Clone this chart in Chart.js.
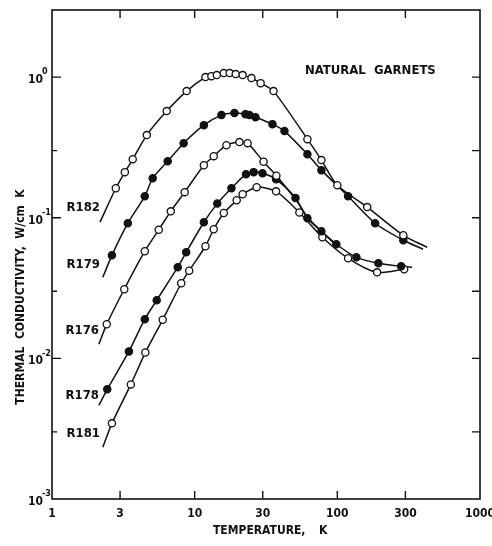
<!DOCTYPE html>
<html>
<head>
<meta charset="utf-8">
<script src="https://cdn.jsdelivr.net/npm/chart.js@4.4.0/dist/chart.umd.min.js"></script>
<style>
  html, body { margin: 0; padding: 0; background: #fff; }
  canvas { display: block; }
</style>
</head>
<body>
<canvas id="kchart" width="492" height="546"></canvas>
<script>
// Thermal conductivity of natural garnets, K (W/cm K) vs temperature T (K)
// Measured points per sample; the head/tail arrays only extend the drawn curve.
const R182_T = [2.80, 3.24, 3.68, 4.62, 6.37, 8.79, 11.9, 13.1, 14.3, 16.0, 17.6, 19.4, 21.7, 25.0, 29.0, 35.7, 61.7, 77.3, 100, 162, 290];
const R182_K = [0.162, 0.211, 0.261, 0.387, 0.573, 0.795, 1.00, 1.016, 1.033, 1.068, 1.068, 1.05, 1.033, 0.984, 0.906, 0.795, 0.362, 0.257, 0.170, 0.119, 0.075];
const R182_HEAD = [[2.17, 0.093]];
const R182_TAIL = [[426, 0.0617]];

const R179_T = [2.63, 3.40, 4.47, 5.08, 6.47, 8.37, 11.6, 15.4, 19.0, 22.7, 24.2, 26.7, 35.1, 42.6, 61.7, 77.3, 119, 184, 290];
const R179_K = [0.054, 0.0914, 0.142, 0.191, 0.252, 0.339, 0.455, 0.537, 0.555, 0.545, 0.537, 0.519, 0.463, 0.413, 0.283, 0.218, 0.142, 0.0914, 0.0692];
const R179_HEAD = [[2.27, 0.0377]];
const R179_TAIL = [[399, 0.0597]];

const R176_T = [2.42, 3.21, 4.47, 5.60, 6.80, 8.51, 11.6, 13.6, 16.7, 20.6, 23.5, 30.4, 37.4];
const R176_K = [0.0175, 0.0310, 0.0578, 0.0822, 0.111, 0.152, 0.236, 0.274, 0.328, 0.345, 0.339, 0.250, 0.199];
const R176_HEAD = [[2.13, 0.0126]];
const R176_TAIL = [[50.9, 0.135], [62.7, 0.099], [78.5, 0.0789], [98.4, 0.0637]];

const R178_T = [2.44, 3.46, 4.47, 5.42, 7.61, 8.72, 11.6, 14.4, 18.1, 22.9, 25.9, 29.9, 37.2, 50.9, 61.7, 77.3, 98.4, 136, 194, 280];
const R178_K = [0.00602, 0.0112, 0.0190, 0.0259, 0.0445, 0.0568, 0.0929, 0.126, 0.162, 0.204, 0.211, 0.207, 0.188, 0.138, 0.0992, 0.0801, 0.0648, 0.0523, 0.0475, 0.0451];
const R178_HEAD = [[2.13, 0.00463]];
const R178_TAIL = [[334, 0.0444]];

const R181_T = [2.63, 3.57, 4.51, 5.97, 8.05, 9.15, 11.9, 13.6, 16.0, 19.7, 21.7, 27.2, 37.2, 54.2, 78.5, 119, 190, 294];
const R181_K = [0.00345, 0.00653, 0.0110, 0.0188, 0.0342, 0.0420, 0.0627, 0.0828, 0.108, 0.133, 0.147, 0.165, 0.154, 0.109, 0.0727, 0.0515, 0.0409, 0.0430];
const R181_HEAD = [[2.27, 0.00233]];
const R181_TAIL = [];

const X_TICKS = [1, 3, 10, 30, 100, 300, 1000];
const X_TICK_LABELS = ['1', '3', '10', '30', '100', '300', '1000'];
const Y_MAJOR = [1e-3, 1e-2, 1e-1, 1];
const Y_EXP = ['-3', '-2', '-1', '0'];
const Y_MINOR = [3e-3, 3e-2, 3e-1];

const FONT = "'DejaVu Sans Condensed', 'Liberation Sans Narrow', sans-serif";
const INK = '#111';

const SAMPLES = [
  { name: 'R182', T: R182_T, K: R182_K, head: R182_HEAD, tail: R182_TAIL, filled: false, lx: 100, ly: 208 },
  { name: 'R179', T: R179_T, K: R179_K, head: R179_HEAD, tail: R179_TAIL, filled: true,  lx: 100, ly: 265 },
  { name: 'R176', T: R176_T, K: R176_K, head: R176_HEAD, tail: R176_TAIL, filled: false, lx: 99,  ly: 331 },
  { name: 'R178', T: R178_T, K: R178_K, head: R178_HEAD, tail: R178_TAIL, filled: true,  lx: 99,  ly: 396 },
  { name: 'R181', T: R181_T, K: R181_K, head: R181_HEAD, tail: R181_TAIL, filled: false, lx: 100, ly: 434 },
];

const toXY = (T, K) => T.map((t, i) => ({ x: t, y: K[i] }));
const pairs = (arr) => arr.map(p => ({ x: p[0], y: p[1] }));

const datasets = [];
SAMPLES.forEach(s => {
  // smooth curve through the points
  datasets.push({
    label: s.name + ' curve',
    data: [...pairs(s.head), ...toXY(s.T, s.K), ...pairs(s.tail)],
    showLine: true,
    borderColor: INK,
    borderWidth: 1.5,
    pointRadius: 0,
    tension: 0.25,
    order: 1,
  });
  // measured points, drawn on top
  datasets.push({
    label: s.name,
    data: toXY(s.T, s.K),
    showLine: false,
    pointRadius: 3.6,
    pointBorderWidth: 1.3,
    pointBorderColor: INK,
    pointBackgroundColor: s.filled ? INK : '#fff',
    order: 0,
  });
});

// frame, inward ticks, tick labels, titles and sample names
const decorations = {
  id: 'decorations',
  afterDraw(chart) {
    const { ctx, chartArea: a, scales: { x, y } } = chart;
    ctx.save();
    ctx.strokeStyle = INK;
    ctx.fillStyle = INK;
    ctx.lineWidth = 1.6;
    ctx.strokeRect(a.left, a.top, a.right - a.left, a.bottom - a.top);

    ctx.lineWidth = 1.4;
    ctx.beginPath();
    X_TICKS.slice(1, -1).forEach(v => {
      const px = x.getPixelForValue(v);
      ctx.moveTo(px, a.bottom); ctx.lineTo(px, a.bottom - 8);
      ctx.moveTo(px, a.top); ctx.lineTo(px, a.top + 8);
    });
    Y_MAJOR.slice(1).forEach(v => {
      const py = y.getPixelForValue(v);
      ctx.moveTo(a.left, py); ctx.lineTo(a.left + 9, py);
      ctx.moveTo(a.right, py); ctx.lineTo(a.right - 8, py);
    });
    Y_MINOR.forEach(v => {
      const py = y.getPixelForValue(v);
      ctx.moveTo(a.left, py); ctx.lineTo(a.left + 5, py);
      ctx.moveTo(a.right, py); ctx.lineTo(a.right - 8, py);
    });
    ctx.stroke();

    // x tick labels
    ctx.font = 'bold 12px ' + FONT;
    ctx.textAlign = 'center';
    ctx.textBaseline = 'middle';
    X_TICKS.forEach((v, i) => {
      ctx.fillText(X_TICK_LABELS[i], x.getPixelForValue(v), a.bottom + 15);
    });

    // y tick labels as 10 with a raised exponent
    Y_MAJOR.forEach((v, i) => {
      const py = y.getPixelForValue(v);
      ctx.font = 'bold 12px ' + FONT;
      ctx.textAlign = 'right';
      ctx.fillText('10', a.left - 9, py + 3);
      ctx.font = 'bold 9px ' + FONT;
      ctx.textAlign = 'left';
      ctx.fillText(Y_EXP[i], a.left - 10, py - 5);
    });

    // axis titles
    ctx.font = 'bold 12px ' + FONT;
    ctx.textAlign = 'left';
    ctx.fillText('TEMPERATURE,', 213, 531);
    ctx.fillText('K', 319, 531);

    ctx.save();
    ctx.translate(21, 297);
    ctx.rotate(-Math.PI / 2);
    ctx.textAlign = 'center';
    ctx.fillText('THERMAL  CONDUCTIVITY,  W/cm  K', 0, 0);
    ctx.restore();

    ctx.font = 'bold 13px ' + FONT;
    ctx.textAlign = 'left';
    ctx.fillText('NATURAL  GARNETS', 305, 71);

    ctx.textAlign = 'right';
    SAMPLES.forEach(s => ctx.fillText(s.name, s.lx, s.ly));
    ctx.restore();
  },
};

new Chart(document.getElementById('kchart'), {
  type: 'scatter',
  data: { datasets },
  options: {
    responsive: false,
    animation: false,
    events: [],
    layout: { padding: { left: 52, right: 12, top: 10, bottom: 47 } },
    plugins: { legend: { display: false }, tooltip: { enabled: false } },
    scales: {
      x: { type: 'logarithmic', min: 1, max: 1000, display: false },
      y: { type: 'logarithmic', min: 1e-3, max: 3, display: false },
    },
  },
  plugins: [decorations],
});
</script>
</body>
</html>
